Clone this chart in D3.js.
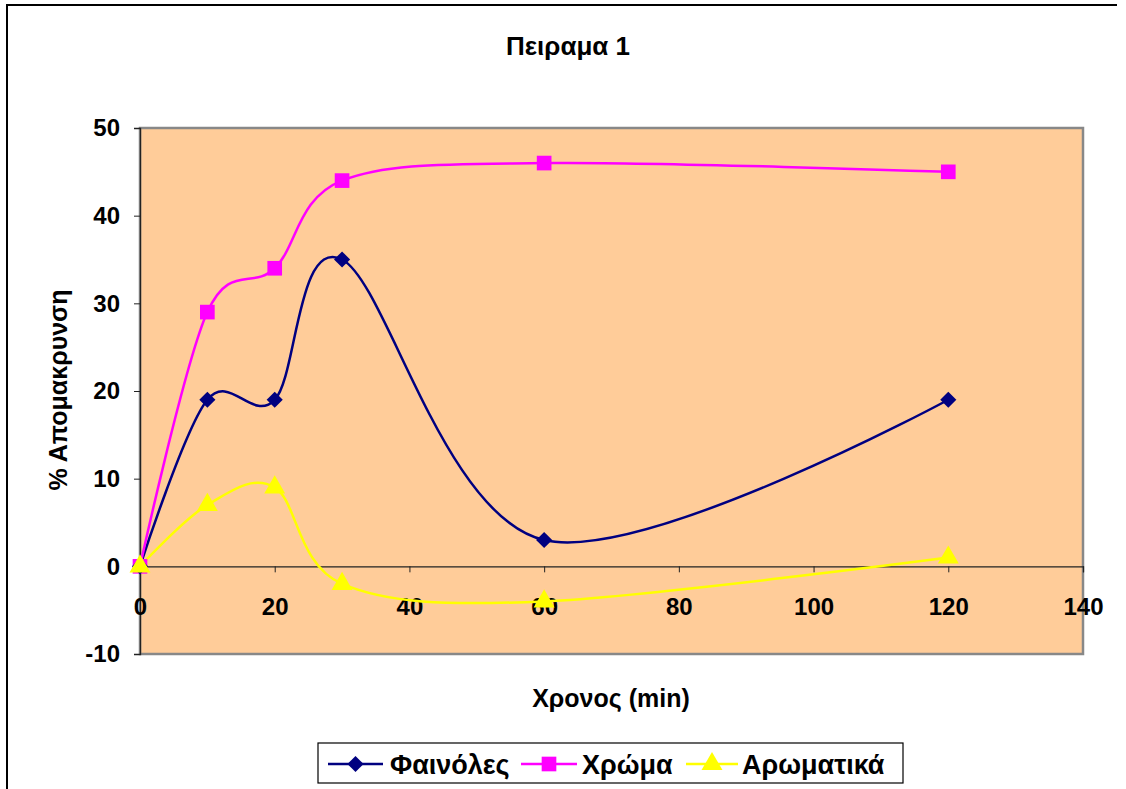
<!DOCTYPE html>
<html>
<head>
<meta charset="utf-8">
<script src="https://cdn.jsdelivr.net/npm/d3@7/dist/d3.min.js"></script>
<style>
  html, body { margin: 0; padding: 0; background: #fff; }
  svg { display: block; font-family: "Liberation Sans", Arial, sans-serif; }
</style>
</head>
<body>
<svg id="chart" width="1126" height="789"></svg>
<script>
// Time points (min)
const times = [0, 10, 20, 30, 60, 120];
// % removal per series
const phenols = [0, 19, 19, 35, 3, 19];
const colour = [0, 29, 34, 44, 46, 45];
const aromatics = [0, 7, 9, -2, -4, 1];

const seriesNames = ["Φαινόλες", "Χρώμα", "Αρωματικά"];
const xTicks = [0, 20, 40, 60, 80, 100, 120, 140];
const yTicks = [-10, 0, 10, 20, 30, 40, 50];

const title = "Πειραμα 1";
const xTitle = "Χρονος (min)";
const yTitle = "% Απομακρυνση";

const svg = d3.select("#chart");
const FONT = "Liberation Sans, Arial, sans-serif";

// outer chart frame (top and left edges)
svg.append("path")
  .attr("d", "M7,789 L7,5 L1117,5")
  .attr("fill", "none").attr("stroke", "#000").attr("stroke-width", 2);

const plot = { left: 140, top: 128, right: 1083, bottom: 654 };

const x = d3.scaleLinear().domain([0, 140]).range([plot.left, plot.right]);
const y = d3.scaleLinear().domain([-10, 50]).range([plot.bottom, plot.top]);

// plot background
svg.append("rect")
  .attr("x", plot.left).attr("y", plot.top)
  .attr("width", plot.right - plot.left).attr("height", plot.bottom - plot.top)
  .attr("fill", "#FFCC99")
  .attr("stroke", "#888").attr("stroke-width", 2.5);

const fmt = d => String(d);

// y axis
const yAxis = svg.append("g")
  .attr("transform", `translate(${plot.left},0)`)
  .call(d3.axisLeft(y).tickValues(yTicks).tickFormat(fmt).tickSize(6).tickPadding(14));
yAxis.select(".domain").attr("stroke", "#222").attr("stroke-width", 1.3);
yAxis.selectAll(".tick line").attr("stroke", "#222");
yAxis.selectAll(".tick text")
  .attr("font-size", 24).attr("font-weight", "bold").attr("fill", "#000")
  .attr("font-family", FONT);

// x axis along zero
const xAxis = svg.append("g")
  .attr("transform", `translate(0,${y(0)})`)
  .call(d3.axisBottom(x).tickValues(xTicks).tickFormat(fmt).tickSize(6).tickPadding(26));
xAxis.select(".domain").attr("stroke", "#222").attr("stroke-width", 1.3);
xAxis.selectAll(".tick line").attr("stroke", "#222");
xAxis.selectAll(".tick text")
  .attr("font-size", 24).attr("font-weight", "bold").attr("fill", "#000")
  .attr("font-family", FONT);

// titles
svg.append("text").attr("x", 568).attr("y", 55)
  .attr("text-anchor", "middle").attr("font-size", 26).attr("font-weight", "bold")
  .text(title);
svg.append("text").attr("x", 611).attr("y", 707)
  .attr("text-anchor", "middle").attr("font-size", 25).attr("font-weight", "bold")
  .text(xTitle);
svg.append("text")
  .attr("transform", "translate(67,390) rotate(-90)")
  .attr("text-anchor", "middle").attr("font-size", 25).attr("font-weight", "bold")
  .text(yTitle);

// diamond = square turned 45 degrees
const styles = [
  { values: phenols, color: "#000080", symbol: d3.symbolSquare, size: 130, rot: 45 },
  { values: colour, color: "#FF00FF", symbol: d3.symbolSquare, size: 215, rot: 0 },
  { values: aromatics, color: "#FFFF00", symbol: d3.symbolTriangle, size: 190, rot: 0 }
];

const line = d3.line()
  .x((d, i) => x(times[i]))
  .y(d => y(d))
  .curve(d3.curveCardinal.tension(0));

// lines, yellow drawn first so it sits underneath
[2, 0, 1].forEach(k => {
  const s = styles[k];
  svg.append("path")
    .datum(s.values)
    .attr("d", line)
    .attr("fill", "none")
    .attr("stroke", s.color)
    .attr("stroke-width", 2.5);
});
// markers
[1, 0, 2].forEach(k => {
  const s = styles[k];
  svg.append("g").selectAll("path")
    .data(s.values)
    .join("path")
    .attr("transform", (d, i) => `translate(${x(times[i])},${y(d)}) rotate(${s.rot})`)
    .attr("d", d3.symbol().type(s.symbol).size(s.size))
    .attr("fill", s.color);
});

// legend
const legend = svg.append("g");
legend.append("rect")
  .attr("x", 318).attr("y", 743).attr("width", 585).attr("height", 40)
  .attr("fill", "#fff").attr("stroke", "#000").attr("stroke-width", 1.2);

const legendItems = [
  { x0: 328, x1: 383, tx: 390 },
  { x0: 521, x1: 577, tx: 582 },
  { x0: 686, x1: 738, tx: 742 }
];
legendItems.forEach((it, k) => {
  const s = styles[k];
  const cy = 764;
  legend.append("line")
    .attr("x1", it.x0).attr("x2", it.x1).attr("y1", cy).attr("y2", cy)
    .attr("stroke", s.color).attr("stroke-width", 2.5);
  legend.append("path")
    .attr("transform", `translate(${(it.x0 + it.x1) / 2},${cy}) rotate(${s.rot})`)
    .attr("d", d3.symbol().type(s.symbol).size(s.size))
    .attr("fill", s.color);
  legend.append("text")
    .attr("x", it.tx).attr("y", cy + 10)
    .attr("font-size", 27).attr("font-weight", "bold")
    .text(seriesNames[k]);
});
</script>
</body>
</html>
